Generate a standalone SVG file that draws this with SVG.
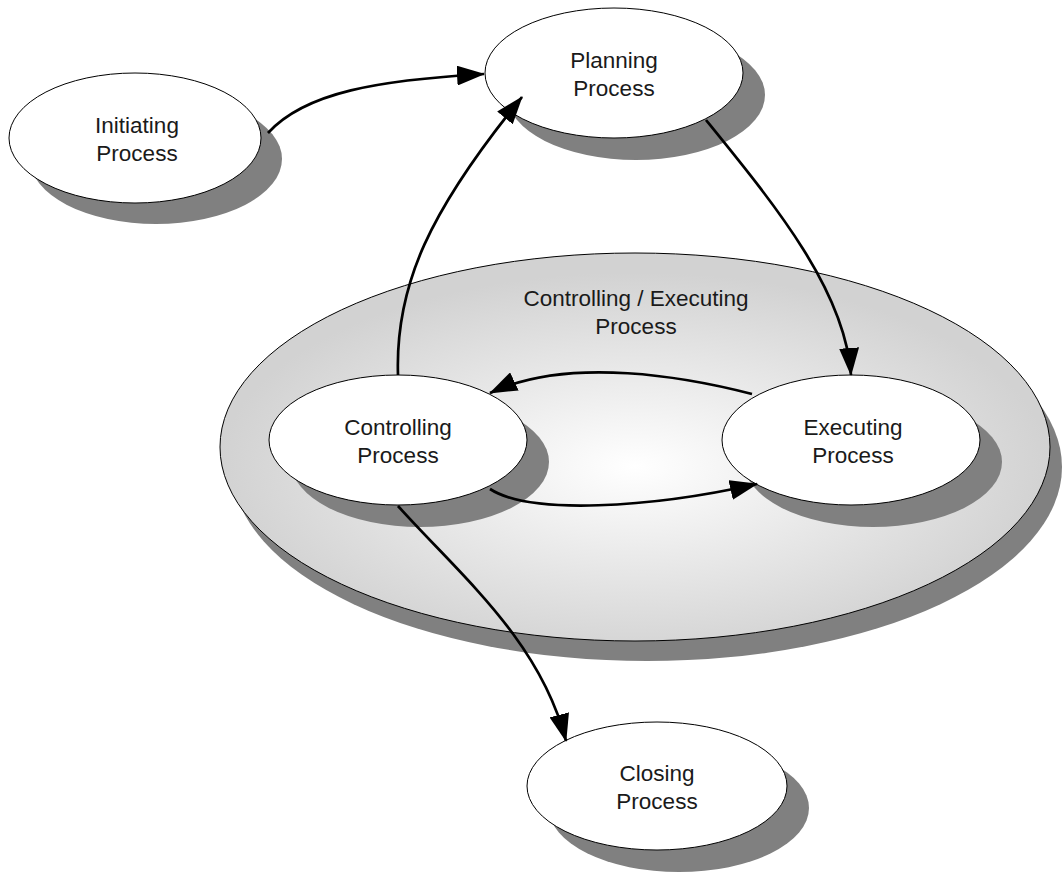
<svg xmlns="http://www.w3.org/2000/svg" width="1062" height="872" viewBox="0 0 1062 872">
  <style>
    .shadow { fill: #808080; stroke: none; }
    .node { fill: #ffffff; stroke: #000000; stroke-width: 1; }
    .label { font-family: "Liberation Sans", "Noto Sans", sans-serif; font-size: 22.5px; fill: #1a1a1a; text-anchor: middle; }
    .edge { fill: none; stroke: #000000; stroke-width: 2.7; marker-end: url(#arrow); }
  </style>
  <defs>
    <radialGradient id="groupFill" cx="0.5" cy="0.55" r="0.5">
      <stop offset="0" stop-color="#ffffff"/>
      <stop offset="1" stop-color="#d2d2d2"/>
    </radialGradient>
    <marker id="arrow" viewBox="0 0 28 20" refX="27" refY="10" markerWidth="28" markerHeight="20" markerUnits="userSpaceOnUse" orient="auto">
      <path d="M0,0 L28,10 L0,20 Z" fill="#000000"/>
    </marker>
  </defs>

  <rect width="1062" height="872" fill="#ffffff"/>

  <!-- Enclosing group: controlling / executing cycle -->
  <g id="group-controlling-executing">
    <ellipse class="shadow" cx="647" cy="467" rx="415" ry="194"/>
    <ellipse cx="635" cy="447" rx="415" ry="194" fill="url(#groupFill)" stroke="#000000" stroke-width="1"/>
    <text class="label" x="636" y="306">Controlling / Executing</text>
    <text class="label" x="636" y="334">Process</text>
  </g>

  <g id="node-initiating">
    <ellipse class="shadow" cx="156" cy="159" rx="126" ry="65"/>
    <ellipse class="node" cx="135" cy="138" rx="126" ry="65"/>
    <text class="label" x="137" y="133">Initiating</text>
    <text class="label" x="137" y="161">Process</text>
  </g>

  <g id="node-planning">
    <ellipse class="shadow" cx="636" cy="95" rx="129" ry="65"/>
    <ellipse class="node" cx="614" cy="73" rx="129" ry="65"/>
    <text class="label" x="614" y="68">Planning</text>
    <text class="label" x="614" y="96">Process</text>
  </g>

  <g id="node-controlling">
    <ellipse class="shadow" cx="420" cy="462" rx="129" ry="65"/>
    <ellipse class="node" cx="398" cy="440" rx="129" ry="65"/>
    <text class="label" x="398" y="435">Controlling</text>
    <text class="label" x="398" y="463">Process</text>
  </g>

  <g id="node-executing">
    <ellipse class="shadow" cx="873" cy="462" rx="129" ry="65"/>
    <ellipse class="node" cx="851" cy="440" rx="129" ry="65"/>
    <text class="label" x="853" y="435">Executing</text>
    <text class="label" x="853" y="463">Process</text>
  </g>

  <g id="node-closing">
    <ellipse class="shadow" cx="679" cy="808" rx="130" ry="64"/>
    <ellipse class="node" cx="657" cy="786" rx="130" ry="64"/>
    <text class="label" x="657" y="781">Closing</text>
    <text class="label" x="657" y="809">Process</text>
  </g>

  <!-- Connectors -->
  <g id="connectors">
    <path class="edge" d="M268,133 C305,92 380,80 484,74"/>
    <path class="edge" d="M398,375 C395,285 430,210 522,97"/>
    <path class="edge" d="M706,120 C775,205 845,290 851,375"/>
    <path class="edge" d="M752,394 C690,378 570,355 490,393"/>
    <path class="edge" d="M490,489 C530,515 650,508 757,484"/>
    <path class="edge" d="M398,506 C460,575 540,640 566,741"/>
  </g>
</svg>
